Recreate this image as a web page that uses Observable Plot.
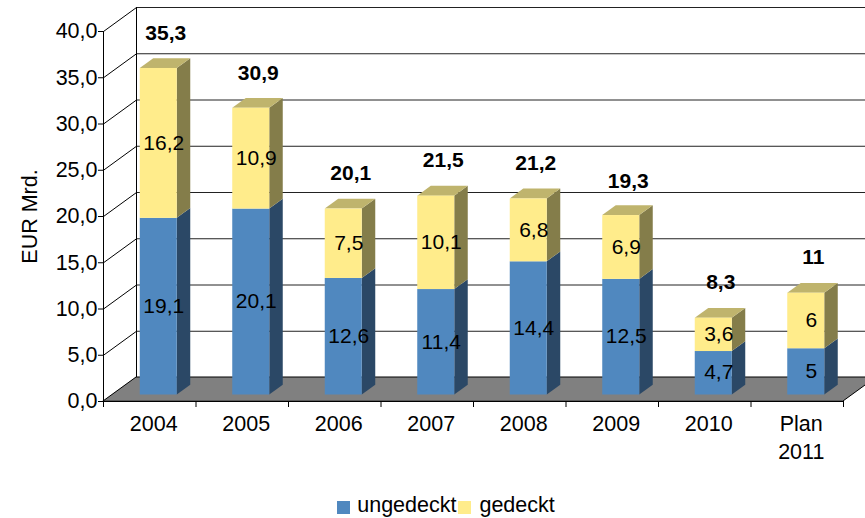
<!DOCTYPE html>
<html><head><meta charset="utf-8">
<script src="https://cdn.jsdelivr.net/npm/d3@7"></script>
<script src="https://cdn.jsdelivr.net/npm/@observablehq/plot@0.6"></script>
<style>
body{margin:0;background:#fff;overflow:hidden;font-family:"Liberation Sans",Arial,sans-serif;}
#legend{height:26px;line-height:26px;font-size:21.5px;display:flex;justify-content:center;align-items:center;padding-left:27px;color:#000;}
#legend .sw{width:13px;height:13px;display:inline-block;margin-top:5px;}
</style>
</head><body><div id="chart"></div>
<div id="legend">
  <span class="sw" style="background:#5088BF;margin-right:7px"></span><span>ungedeckt</span>
  <span class="sw" style="background:#FFEC8B;margin-left:2px;margin-right:8px"></span><span>gedeckt</span>
</div>
<script>
const categories = ["2004","2005","2006","2007","2008","2009","2010","Plan\n2011"];
const ungedeckt = [19.1,20.1,12.6,11.4,14.4,12.5,4.7,5];
const gedeckt   = [16.2,10.9,7.5,10.1,6.8,6.9,3.6,6];
const totals    = [35.3,30.9,20.1,21.5,21.2,19.3,8.3,11];
const yTicks    = [0,5,10,15,20,25,30,35,40];

const W=865, H=492, mL=103, mR=22, mT=31, mB=91;
const n = categories.length;
const kx = (W-mL-mR)/n;      // px per category unit
const ky = (H-mT-mB)/40;     // px per EUR Mrd.
const ux = px => px/kx, uy = py => py/ky;
// 3D depth offsets (pixels)
const floorD = [33, 24];
const barF = [9, 6.5];
const barD = [13.5, 9.8];

const fmt = v => String(v).replace(".", ",");
const fmt1 = v => d3.format(".1f")(v).replace(".", ",");

const colors = {
  front: ["#5088BF", "#FFEC8B"],
  side:  ["#2B4866", "#847D4A"],
  top:   ["#3E6A98", "#BFB46D"]
};

const segs = [];
categories.forEach((c,i) => {
  let base = 0;
  [ungedeckt[i], gedeckt[i]].forEach((v,s) => {
    segs.push({i, s, y1: base, y2: base+v, v, top: s===1});
    base += v;
  });
});
const bl = 0.3, br = 0.7;
const sidePts = segs.flatMap((d,k) => [
  {k, s:d.s, x: d.i+br, y1: d.y1, y2: d.y2},
  {k, s:d.s, x: d.i+br+ux(barD[0]), y1: d.y1+uy(barD[1]), y2: d.y2+uy(barD[1])}
]);
const topPts = segs.filter(d => d.top).flatMap((d,k) => [
  {k, s:d.s, y: d.y2, x1: d.i+bl, x2: d.i+br},
  {k, s:d.s, y: d.y2+uy(barD[1]), x1: d.i+bl+ux(barD[0]), x2: d.i+br+ux(barD[0])}
]);
const floorPts = [
  {y: 0, x1: 0, x2: n},
  {y: uy(floorD[1]), x1: ux(floorD[0]), x2: n+ux(floorD[0])}
];
const totalsData = totals.map((t,i) => ({i, t}));
const catData = categories.map((c,i) => ({i, c}));

const marks = [
  Plot.ruleY(yTicks, {x1: 0, x2: n, dx: floorD[0], dy: -floorD[1], stroke: "#222", strokeWidth: 1}),
  Plot.ruleX([0], {y1: 0, y2: 40, dx: floorD[0], dy: -floorD[1], stroke: "#000"}),
  Plot.link(yTicks, {x1: 0, y1: d => d, x2: ux(floorD[0]), y2: d => d + uy(floorD[1]), stroke: "#000"}),
  Plot.areaX(floorPts, {y: "y", x1: "x1", x2: "x2", fill: "#808080", stroke: "#000", strokeWidth: 1}),
];
[0,1].forEach(s => {
  marks.push(
    Plot.areaY(sidePts.filter(d => d.s===s), {x: "x", y1: "y1", y2: "y2", z: "k", fill: colors.side[s], dx: barF[0], dy: -barF[1]}),
  );
});
marks.push(
  Plot.areaX(topPts, {y: "y", x1: "x1", x2: "x2", z: "k", fill: colors.top[1], dx: barF[0], dy: -barF[1]})
);
[0,1].forEach(s => {
  marks.push(
    Plot.rect(segs.filter(d => d.s===s), {x1: d => d.i+bl, x2: d => d.i+br, y1: "y1", y2: "y2", fill: colors.front[s], dx: barF[0], dy: -barF[1]})
  );
});
marks.push(
  Plot.text(segs, {x: d => d.i+0.5, y: d => (d.y1+d.y2)/2, text: d => fmt(d.v), dx: 14, dy: -7, fontSize: 21, fill: "#000"}),
  Plot.text(totalsData, {x: d => d.i+0.5, y: "t", text: d => fmt(d.t), dx: 16, dy: -42, fontSize: 21, fontWeight: "bold", fill: "#000"}),
  Plot.ruleX([0], {y1: 0, y2: 40, stroke: "#000"}),
  Plot.ruleY([0], {x1: 0, x2: n, stroke: "#000"}),
  Plot.text(catData, {x: d => d.i+0.5, y: 0, text: "c", dx: 4, dy: 10, lineAnchor: "top", lineHeight: 1.3, fontSize: 21.5, fill: "#000"})
);

const chart = Plot.plot({
  width: W, height: H,
  marginLeft: mL, marginRight: mR, marginTop: mT, marginBottom: mB,
  style: {fontFamily: "Liberation Sans, Arial, sans-serif", fontSize: "21.5px", background: "#fff", color: "#000", overflow: "visible"},
  x: {domain: [0, n], ticks: d3.range(n+1), tickFormat: () => "", tickSize: 6, label: null},
  y: {domain: [0, 40], ticks: yTicks, tickFormat: fmt1, tickSize: 5, tickPadding: 1,
      label: "EUR Mrd.", labelAnchor: "center", labelOffset: 82, labelArrow: "none"},
  marks
});
document.getElementById("chart").appendChild(chart);
</script>
</body></html>
